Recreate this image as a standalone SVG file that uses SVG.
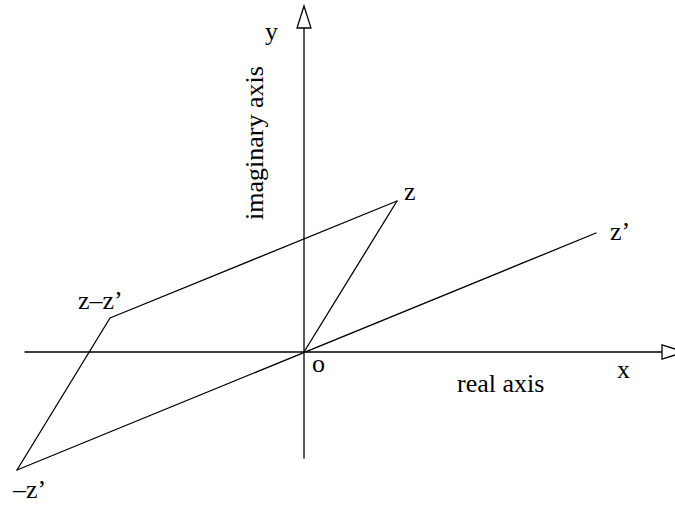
<svg xmlns="http://www.w3.org/2000/svg" width="675" height="505" viewBox="0 0 675 505">
<style>
.ln{stroke:#000;stroke-width:1.3;fill:none;stroke-linecap:round;stroke-linejoin:round}
.ah{stroke:#000;stroke-width:1.3;fill:#fff;stroke-linejoin:miter}
.t{font-family:"Liberation Serif","Times New Roman",serif;font-size:26px;fill:#000}
</style>
<rect width="675" height="505" fill="#fff"/>
<g id="connectors">
<line class="ln" x1="25" y1="352" x2="662" y2="352"/>
<line class="ln" x1="304" y1="458" x2="304" y2="28"/>
<line class="ln" x1="17" y1="470" x2="596" y2="233"/>
<line class="ln" x1="304" y1="352" x2="397" y2="201"/>
<polyline class="ln" points="397,201 110,318 17,470"/>
<polygon class="ah" points="662,345 662,359 685,352"/>
<polygon class="ah" points="297,28 311,28 304,6"/>
</g>
<g id="label-y"><text class="t" x="265" y="40">y</text></g>
<g id="label-imag"><text class="t" transform="translate(263,220) rotate(-90)">imaginary axis</text></g>
<g id="node-z"><text class="t" x="404" y="200">z</text></g>
<g id="node-zp"><text class="t" x="610" y="240">z’</text></g>
<g id="node-zmzp"><text class="t" x="78" y="309">z–z’</text></g>
<g id="node-mzp"><text class="t" x="13" y="498">–z’</text></g>
<g id="node-o"><text class="t" x="312" y="372">o</text></g>
<g id="label-x"><text class="t" x="617" y="378">x</text></g>
<g id="label-real"><text class="t" x="457" y="392">real axis</text></g>
</svg>
